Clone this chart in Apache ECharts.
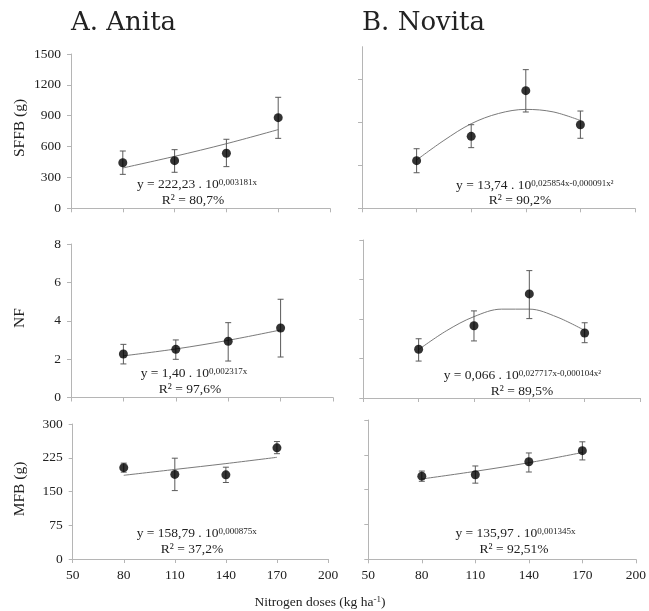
<!DOCTYPE html>
<html>
<head>
<meta charset="utf-8">
<script src="https://cdn.jsdelivr.net/npm/echarts@6/dist/echarts.min.js"></script>
<style>
html,body{margin:0;padding:0;background:#fff;}
#chart{width:649px;height:611px;}
</style>
</head>
<body>
<div id="chart"></div>
<script>
// ---------- data ----------
const doses = [80, 110, 140, 170];
const xTicks = [50, 80, 110, 140, 170, 200];

const anitaSFFB = [443, 463, 535, 881];
const anitaSFFBLow = [330, 350, 405, 680];
const anitaSFFBHigh = [557, 570, 671, 1079];
const anitaSFFBTrend = [392, 505, 628, 765];

const novitaSFFB = [442, 668, 1092, 776];
const novitaSFFBLow = [330, 563, 894, 650];
const novitaSFFBHigh = [553, 776, 1287, 903];
const curveDoses = [80, 95, 110, 125, 140, 155, 170];
const novitaSFFBTrend = [448, 630, 785, 880, 918, 895, 815];

const anitaNF = [2.27, 2.51, 2.93, 3.62];
const anitaNFLow = [1.75, 1.99, 1.90, 2.11];
const anitaNFHigh = [2.77, 3.00, 3.90, 5.12];
const anitaNFTrend = [2.17, 2.53, 2.98, 3.52];

const novitaNF = [2.47, 3.66, 5.27, 3.29];
const novitaNFLow = [1.87, 2.89, 4.02, 2.80];
const novitaNFHigh = [3.00, 4.41, 6.45, 3.81];
const novitaNFTrend = [2.45, 3.40, 4.12, 4.50, 4.50, 4.10, 3.42];

const anitaMFB = [203, 188, 187, 247];
const anitaMFBLow = [193, 152, 170, 234];
const anitaMFBHigh = [213, 224, 204, 261];
const anitaMFBTrend = [186, 199, 212, 226];

const novitaMFB = [179, 182, 210, 234];
const novitaMFBLow = [168, 164, 188, 214];
const novitaMFBHigh = [190, 201, 229, 253];
const novitaMFBTrend = [173, 189.5, 208, 230];

const sffbTicksLeft = [0, 300, 600, 900, 1200, 1500];
const sffbTicksRight = [0, 400, 800, 1200];
const nfTicks = [0, 2, 4, 6, 8];
const mfbTicks = [0, 75, 150, 225, 300];

const equations = [
  ['y = 222,23 . 10', '0,003181x', 'R² = 80,7%'],
  ['y = 13,74 . 10', '0,025854x-0,000091x²', 'R² = 90,2%'],
  ['y = 1,40 . 10', '0,002317x', 'R² = 97,6%'],
  ['y = 0,066 . 10', '0,027717x-0,000104x²', 'R² = 89,5%'],
  ['y = 158,79 . 10', '0,000875x', 'R² = 37,2%'],
  ['y = 135,97 . 10', '0,001345x', 'R² = 92,51%']
];

// ---------- layout ----------
const SERIF = '"Liberation Serif", "Times New Roman", serif';
const AXIS_COLOR = '#b5b5b5';
const TEXT_COLOR = '#222';

const grids = [
  {left: 71,  top: 54,   width: 259, height: 154.3},
  {left: 362, top: 46.7, width: 273, height: 161.6},
  {left: 71,  top: 244,  width: 262, height: 153.5},
  {left: 363.3, top: 240, width: 276.7, height: 158},
  {left: 72.7, top: 424, width: 255.3, height: 135},
  {left: 368.3, top: 420, width: 270, height: 139.3}
];

const yCfg = [
  {max: 1500, ticks: sffbTicksLeft, labels: true},
  {max: 1500, ticks: sffbTicksRight, labels: false},
  {max: 8, ticks: nfTicks, labels: true},
  {max: 8, ticks: nfTicks, labels: false},
  {max: 300, ticks: mfbTicks, labels: true},
  {max: 300, ticks: mfbTicks, labels: false}
];

const plain = v => String(v);

const xAxes = grids.map((g, i) => ({
  type: 'value', gridIndex: i, min: 50, max: 200,
  axisLine: {show: true, lineStyle: {color: AXIS_COLOR, width: 1}},
  axisTick: {show: true, inside: false, length: 4, customValues: xTicks, lineStyle: {color: AXIS_COLOR}},
  axisLabel: {show: i >= 4, customValues: xTicks, formatter: plain, margin: 9, color: TEXT_COLOR, fontFamily: SERIF, fontSize: 13.5},
  splitLine: {show: false}
}));

const yAxes = yCfg.map((c, i) => ({
  type: 'value', gridIndex: i, min: 0, max: c.max,
  axisLine: {show: true, lineStyle: {color: AXIS_COLOR, width: 1}},
  axisTick: {show: true, inside: false, length: 4, customValues: c.ticks, lineStyle: {color: AXIS_COLOR}},
  axisLabel: {show: c.labels, customValues: c.ticks, formatter: plain, margin: 10, color: TEXT_COLOR, fontFamily: SERIF, fontSize: 13.5},
  splitLine: {show: false}
}));

function errorSeries(idx, low, high) {
  return {
    type: 'custom', xAxisIndex: idx, yAxisIndex: idx, z: 3,
    data: doses.map((d, i) => [d, low[i], high[i]]),
    encode: {x: 0, y: [1, 2]},
    renderItem: function (params, api) {
      const x = api.value(0);
      const lo = api.coord([x, api.value(1)]);
      const hi = api.coord([x, api.value(2)]);
      const w = 3;
      const st = {stroke: '#5a5a5a', lineWidth: 1};
      return {type: 'group', children: [
        {type: 'line', shape: {x1: lo[0], y1: lo[1], x2: hi[0], y2: hi[1]}, style: st},
        {type: 'line', shape: {x1: lo[0] - w, y1: lo[1], x2: lo[0] + w, y2: lo[1]}, style: st},
        {type: 'line', shape: {x1: hi[0] - w, y1: hi[1], x2: hi[0] + w, y2: hi[1]}, style: st}
      ]};
    }
  };
}
function trendSeries(idx, xs, ys) {
  return {
    type: 'line', xAxisIndex: idx, yAxisIndex: idx, z: 2,
    data: xs.map((x, i) => [x, ys[i]]),
    smooth: 0.35, showSymbol: false, symbol: 'none',
    lineStyle: {color: '#7a7a7a', width: 1},
    silent: true
  };
}
function pointSeries(idx, ys) {
  return {
    type: 'scatter', xAxisIndex: idx, yAxisIndex: idx, z: 4,
    data: doses.map((d, i) => [d, ys[i]]),
    symbol: 'circle', symbolSize: 9,
    itemStyle: {color: '#000'}
  };
}

const panels = [
  [anitaSFFB, anitaSFFBLow, anitaSFFBHigh, doses, anitaSFFBTrend],
  [novitaSFFB, novitaSFFBLow, novitaSFFBHigh, curveDoses, novitaSFFBTrend],
  [anitaNF, anitaNFLow, anitaNFHigh, doses, anitaNFTrend],
  [novitaNF, novitaNFLow, novitaNFHigh, curveDoses, novitaNFTrend],
  [anitaMFB, anitaMFBLow, anitaMFBHigh, doses, anitaMFBTrend],
  [novitaMFB, novitaMFBLow, novitaMFBHigh, doses, novitaMFBTrend]
];

const series = [];
panels.forEach((p, i) => {
  series.push(trendSeries(i, p[3], p[4]));
  series.push(errorSeries(i, p[1], p[2]));
  series.push(pointSeries(i, p[0]));
});

const eqPos = [
  [197, 184.3, 193, 200],
  [534.7, 185.3, 520, 200.7],
  [194, 373.3, 190, 389.3],
  [522.3, 375.7, 522, 391.7],
  [196.7, 533.3, 192, 549.3],
  [515.5, 533.3, 514, 549.3]
];

const richSup = {
  n: {fontFamily: SERIF, fontSize: 13.5, fill: TEXT_COLOR, lineHeight: 20},
  s: {fontFamily: SERIF, fontSize: 9, fill: TEXT_COLOR, height: 16, lineHeight: 16, verticalAlign: 'top'}
};

const graphics = [];
equations.forEach((e, i) => {
  const p = eqPos[i];
  graphics.push({
    type: 'text', x: p[0], y: p[1],
    style: {
      text: '{n|' + e[0] + '}{s|' + e[1] + '}',
      align: 'center', verticalAlign: 'middle',
      rich: richSup
    }
  });
  graphics.push({
    type: 'text', x: p[2], y: p[3],
    style: {text: e[2], align: 'center', verticalAlign: 'middle', fontFamily: SERIF, fontSize: 13.5, fill: TEXT_COLOR}
  });
});

graphics.push({type: 'text', x: 71, y: 23, style: {text: 'A. Anita', fontFamily: '"DejaVu Serif", serif', fontSize: 26, fill: TEXT_COLOR, verticalAlign: 'middle'}});
graphics.push({type: 'text', x: 362, y: 23, style: {text: 'B. Novita', fontFamily: '"DejaVu Serif", serif', fontSize: 26, fill: TEXT_COLOR, verticalAlign: 'middle'}});

const yNames = [['SFFB (g)', 128], ['NF', 318], ['MFB (g)', 489]];
yNames.forEach(n => {
  graphics.push({type: 'text', x: 20, y: n[1], rotation: Math.PI / 2,
    style: {text: n[0], fontFamily: SERIF, fontSize: 15.5, fill: TEXT_COLOR, align: 'center', verticalAlign: 'middle'}});
});

graphics.push({type: 'text', x: 320, y: 602,
  style: {
    text: '{n|Nitrogen doses (kg ha}{s|-1}{n|)}', align: 'center', verticalAlign: 'middle',
    rich: richSup
  }});

const chart = echarts.init(document.getElementById('chart'), null, {renderer: 'canvas'});
chart.setOption({
  backgroundColor: '#fff',
  animation: false,
  grid: grids,
  xAxis: xAxes,
  yAxis: yAxes,
  series: series,
  graphic: graphics
});
</script>
</body>
</html>
